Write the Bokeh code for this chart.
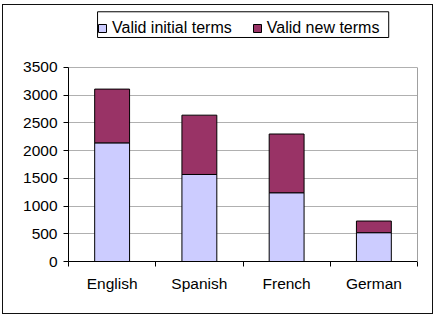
import numpy as np
from bokeh.plotting import figure
from bokeh.models import (ColumnDataSource, Legend, LegendItem, FixedTicker,
                          CustomJSTickFormatter, Range1d, LinearAxis, InlineStyleSheet,
                          BoxAnnotation)
from bokeh.embed import file_html
from bokeh.resources import INLINE

categories = ["English", "Spanish", "French", "German"]
initial_terms = [2140, 1570, 1240, 520]
new_terms = [970, 1070, 1060, 210]
y_ticks = [0, 500, 1000, 1500, 2000, 2500, 3000, 3500]
series_names = ["Valid initial terms", "Valid new terms"]
colors = ["#CCCCFF", "#993366"]

FONT = "Liberation Sans"

y_max = y_ticks[-1]
# headroom above the value axis where the legend sits (in data units)
y_top = 4528

x = np.arange(len(categories)) + 0.5
init = np.array(initial_terms)
tot = init + np.array(new_terms)
src = ColumnDataSource(dict(x=x, init=init, tot=tot, zero=np.zeros(len(x))))

p = figure(width=438, height=318, output_backend="svg", toolbar_location=None,
           x_range=Range1d(0, len(categories)), y_range=Range1d(0, y_top))
p.min_border_left = 68
p.min_border_right = 21
p.min_border_top = 10
p.min_border_bottom = 57
p.background_fill_color = "white"
p.border_fill_color = "white"
p.outline_line_color = None

r1 = p.vbar(x="x", width=0.4, bottom="zero", top="init", source=src,
            fill_color=colors[0], line_color="black", line_width=1)
r2 = p.vbar(x="x", width=0.4, bottom="init", top="tot", source=src,
            fill_color=colors[1], line_color="black", line_width=1)

# y axis
p.yaxis.ticker = FixedTicker(ticks=y_ticks, minor_ticks=[])
p.yaxis.bounds = (0, y_max)
p.yaxis.axis_line_color = "black"
p.yaxis.major_tick_out = 5
p.yaxis.major_tick_in = 0
p.yaxis.minor_tick_line_color = None
p.yaxis.major_label_standoff = 6
p.yaxis.major_label_text_font = FONT
p.yaxis.major_label_text_font_size = "15.5px"
p.yaxis.major_label_text_color = "black"

# right border of the plot area
right_axis = LinearAxis(bounds=(0, y_max), ticker=FixedTicker(ticks=[], minor_ticks=[]),
                        axis_line_color="#a0a0a0", major_tick_line_color=None,
                        minor_tick_line_color=None, major_label_text_font_size="0px")
p.add_layout(right_axis, "right")

# x axis
p.xaxis.ticker = FixedTicker(ticks=list(x), minor_ticks=list(range(len(categories) + 1)))
p.xaxis.formatter = CustomJSTickFormatter(args=dict(cats=categories),
                                          code="return cats[Math.floor(tick)] || '';")
p.xaxis.axis_line_color = "black"
p.xaxis.major_tick_out = 0
p.xaxis.major_tick_in = 0
p.xaxis.minor_tick_out = 5
p.xaxis.minor_tick_in = 0
p.xaxis.minor_tick_line_color = "black"
p.xaxis.major_label_standoff = 8
p.xaxis.major_label_text_font = FONT
p.xaxis.major_label_text_font_size = "15.5px"
p.xaxis.major_label_text_color = "black"

p.xgrid.grid_line_color = None
p.ygrid.ticker = FixedTicker(ticks=y_ticks, minor_ticks=[])
p.ygrid.grid_line_color = "#b0b0b0"
p.ygrid.grid_line_width = 1

legend = Legend(items=[LegendItem(label=series_names[0], renderers=[r1]),
                       LegendItem(label=series_names[1], renderers=[r2])],
                orientation="horizontal", location=(29, 224))
legend.label_text_font = FONT
legend.label_text_font_size = "16px"
legend.label_text_color = "black"
legend.glyph_width = 10
legend.glyph_height = 10
legend.label_standoff = 5
legend.spacing = 20
legend.padding = 4
legend.margin = 0
legend.label_height = 18
legend.border_line_color = None
legend.background_fill_alpha = 0
p.add_layout(legend, "center")

# box drawn around the legend
legend_box = BoxAnnotation(left=0.333, right=3.67, top=4505, bottom=4041,
                           fill_alpha=0, line_color="black", line_width=1,
                           line_alpha=1, level="overlay")
p.add_layout(legend_box)

p.stylesheets = [InlineStyleSheet(css="""
:host::after {
  content: ""; position: absolute; left: 2px; top: 4px; width: 431px; height: 310px;
  border: 1.5px solid #111; box-sizing: border-box; pointer-events: none; z-index: 10;
}
""")]

open("out.html", "w").write(file_html(p, INLINE))
